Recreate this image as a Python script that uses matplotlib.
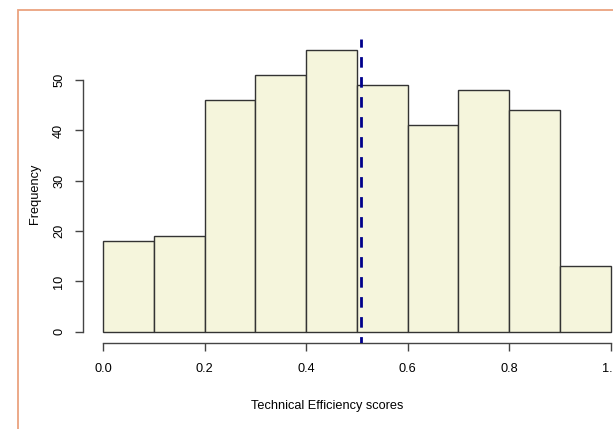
import matplotlib
matplotlib.use("Agg")
import matplotlib.pyplot as plt
import numpy as np
from matplotlib.patches import Rectangle

plt.rcParams['font.family'] = ['Liberation Sans', 'DejaVu Sans']

bin_edges = [0.0, 0.1, 0.2, 0.3, 0.4, 0.5, 0.6, 0.7, 0.8, 0.9, 1.0]
counts = [18, 19, 46, 51, 56, 49, 41, 48, 44, 13]
mean_score = 0.508
x_ticks = [0.0, 0.2, 0.4, 0.6, 0.8, 1.0]
x_tick_labels = ["0.0", "0.2", "0.4", "0.6", "0.8", "1.0"]
y_ticks = [0, 10, 20, 30, 40, 50]
xlabel = "Technical Efficiency scores"
ylabel = "Frequency"

W, H = 613, 429
fig = plt.figure(figsize=(W/100, H/100), dpi=100)

# plot region in pixels
px0, px1 = 82.7, 631.0
py_top, py_bot = 38.7, 343.0
ax = fig.add_axes([px0/W, 1 - py_bot/H, (px1-px0)/W, (py_bot-py_top)/H])

ymax = max(counts)
ax.set_xlim(-0.04, 1.04)
ax.set_ylim(-0.04*ymax, ymax*1.04)

widths = np.diff(bin_edges)
ax.bar(bin_edges[:-1], counts, width=widths, align='edge',
       color='#F5F5DC', edgecolor='#333333', linewidth=1.0, zorder=2)

ax.axvline(mean_score, color='#00008B', linewidth=2.0,
           linestyle=(1.5, (3.8, 3.4)), zorder=3)

for s in ['top', 'right']:
    ax.spines[s].set_visible(False)
ax.spines['left'].set_bounds(0, 50)
ax.spines['bottom'].set_bounds(0, 1)
for s in ['left', 'bottom']:
    ax.spines[s].set_color('#444444')
    ax.spines[s].set_linewidth(1.0)

ax.set_xticks(x_ticks)
ax.set_xticklabels(x_tick_labels)
ax.set_yticks(y_ticks)
ax.set_yticklabels([str(v) for v in y_ticks], rotation=90, va='center')
ax.tick_params(axis='both', direction='out', length=5.7, width=1.0,
               color='#444444', labelsize=9.2, labelcolor='black')
ax.tick_params(axis='x', pad=9)
ax.tick_params(axis='y', pad=7)
ax.set_facecolor('none')

fig.text(327/W, 1 - 406/H, xlabel, ha='center', va='center', fontsize=9.2)
fig.text(35/W, 1 - 194/H, ylabel, ha='center', va='center', fontsize=9.2,
         rotation=90)

# orange frame
fig.patches.append(Rectangle((18/W, -0.05), 1.2, 1 - 10/H + 0.05,
                             transform=fig.transFigure, fill=False,
                             edgecolor='#EBA27F', linewidth=1.3, zorder=0))

fig.savefig("out.png", dpi=100)
